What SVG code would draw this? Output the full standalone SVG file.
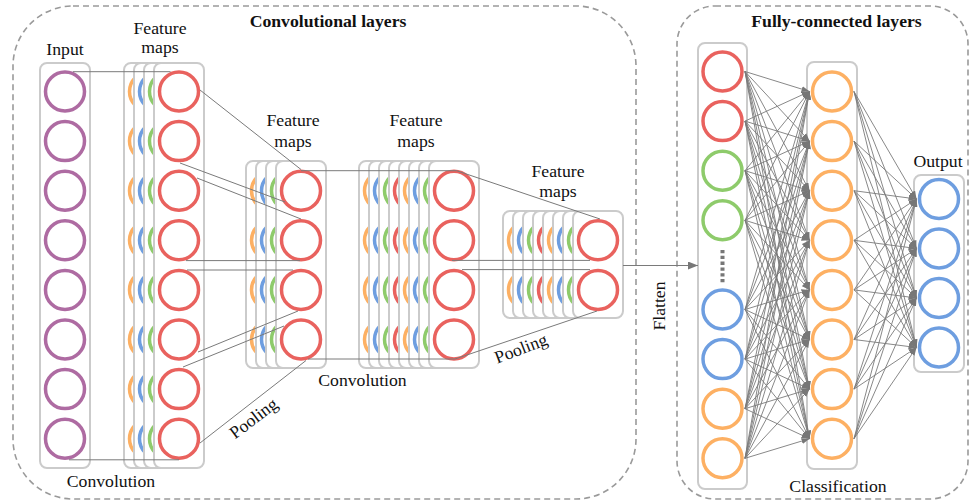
<svg xmlns="http://www.w3.org/2000/svg" xmlns:xlink="http://www.w3.org/1999/xlink" width="972" height="502" viewBox="0 0 972 502">
<style>
text{font-family:"Liberation Serif","Times New Roman",serif;font-size:17.7px;fill:#111;text-anchor:middle}
.t{font-weight:bold}
.box{fill:none;stroke:#9a9a9a;stroke-width:1.6;stroke-dasharray:6 4}
.card{fill:#fff;stroke:#cbcbcb;stroke-width:2}
.cols circle,.nd{fill:#fff;stroke-width:3.5}
.r{stroke:#E9625E}.o{stroke:#FDB063}.b{stroke:#6E9EE0}.g{stroke:#8ECB6B}.p{stroke:#AE6BA2}
.ln line{stroke:#7a7a7a;stroke-width:1;fill:none}
.fc line{stroke:#7a7a7a;stroke-width:0.9;marker-end:url(#ah)}
</style>
<defs>
<marker id="ah" viewBox="0 0 10 10" refX="10" refY="5" markerWidth="8" markerHeight="6" markerUnits="userSpaceOnUse" orient="auto" preserveAspectRatio="none"><path d="M0,0 L10,5 L0,10 z" fill="#777"/></marker>
<marker id="ah2" viewBox="0 0 10 10" refX="10" refY="5" markerWidth="10" markerHeight="8" markerUnits="userSpaceOnUse" orient="auto" preserveAspectRatio="none"><path d="M0,0 L10,5 L0,10 z" fill="#777"/></marker>
<g id="c8" class="cols"><circle cx="0" cy="91.5" r="19.5"/><circle cx="0" cy="141.1" r="19.5"/><circle cx="0" cy="190.7" r="19.5"/><circle cx="0" cy="240.3" r="19.5"/><circle cx="0" cy="289.9" r="19.5"/><circle cx="0" cy="339.5" r="19.5"/><circle cx="0" cy="389.1" r="19.5"/><circle cx="0" cy="438.7" r="19.5"/></g>
<g id="c4" class="cols"><circle cx="0" cy="190.7" r="19.5"/><circle cx="0" cy="240.3" r="19.5"/><circle cx="0" cy="289.9" r="19.5"/><circle cx="0" cy="339.5" r="19.5"/></g>
<g id="c2" class="cols"><circle cx="0" cy="240.3" r="19.5"/><circle cx="0" cy="289.9" r="19.5"/></g>
</defs>
<rect width="972" height="502" fill="#fff"/>
<g id="frames">
<rect class="box" x="13" y="6" width="623" height="493" rx="60"/>
<rect class="box" x="677" y="6" width="291" height="493" rx="38"/>
<text class="t" x="328" y="26.7">Convolutional layers</text>
<text class="t" x="836.5" y="26.7">Fully-connected layers</text>
</g>
<g id="input">
<rect class="card" x="40" y="63" width="50" height="405" rx="7"/>
<use xlink:href="#c8" x="65" class="p"/>
<text x="65" y="54.5">Input</text>
</g>
<g id="fmaps1">
<rect class="card" x="124" y="63" width="50" height="405" rx="7"/><use xlink:href="#c8" x="149" class="o"/>
<rect class="card" x="134" y="63" width="50" height="405" rx="7"/><use xlink:href="#c8" x="159" class="b"/>
<rect class="card" x="144" y="63" width="50" height="405" rx="7"/><use xlink:href="#c8" x="169" class="g"/>
<rect class="card" x="154" y="63" width="50" height="405" rx="7"/><use xlink:href="#c8" x="179" class="r"/>
<text x="160" y="33.5">Feature</text><text x="160" y="53">maps</text>
</g>
<g id="fmaps2">
<rect class="card" x="246" y="161" width="50" height="207" rx="7"/><use xlink:href="#c4" x="271" class="o"/>
<rect class="card" x="256" y="161" width="50" height="207" rx="7"/><use xlink:href="#c4" x="281" class="b"/>
<rect class="card" x="266" y="161" width="50" height="207" rx="7"/><use xlink:href="#c4" x="291" class="g"/>
<rect class="card" x="276" y="161" width="50" height="207" rx="7"/><use xlink:href="#c4" x="301" class="r"/>
<text x="293" y="126">Feature</text><text x="293" y="146.5">maps</text>
</g>
<g id="fmaps3">
<rect class="card" x="359" y="161" width="50" height="207" rx="7"/><use xlink:href="#c4" x="384" class="o"/>
<rect class="card" x="369" y="161" width="50" height="207" rx="7"/><use xlink:href="#c4" x="394" class="b"/>
<rect class="card" x="379" y="161" width="50" height="207" rx="7"/><use xlink:href="#c4" x="404" class="g"/>
<rect class="card" x="389" y="161" width="50" height="207" rx="7"/><use xlink:href="#c4" x="414" class="r"/>
<rect class="card" x="399" y="161" width="50" height="207" rx="7"/><use xlink:href="#c4" x="424" class="o"/>
<rect class="card" x="409" y="161" width="50" height="207" rx="7"/><use xlink:href="#c4" x="434" class="b"/>
<rect class="card" x="419" y="161" width="50" height="207" rx="7"/><use xlink:href="#c4" x="444" class="g"/>
<rect class="card" x="429" y="161" width="50" height="207" rx="7"/><use xlink:href="#c4" x="454" class="r"/>
<text x="416" y="126">Feature</text><text x="416" y="146.5">maps</text>
</g>
<g id="fmaps4">
<rect class="card" x="503" y="211" width="50" height="107" rx="7"/><use xlink:href="#c2" x="528" class="o"/>
<rect class="card" x="513" y="211" width="50" height="107" rx="7"/><use xlink:href="#c2" x="538" class="b"/>
<rect class="card" x="523" y="211" width="50" height="107" rx="7"/><use xlink:href="#c2" x="548" class="g"/>
<rect class="card" x="533" y="211" width="50" height="107" rx="7"/><use xlink:href="#c2" x="558" class="r"/>
<rect class="card" x="543" y="211" width="50" height="107" rx="7"/><use xlink:href="#c2" x="568" class="o"/>
<rect class="card" x="553" y="211" width="50" height="107" rx="7"/><use xlink:href="#c2" x="578" class="b"/>
<rect class="card" x="563" y="211" width="50" height="107" rx="7"/><use xlink:href="#c2" x="588" class="g"/>
<rect class="card" x="573" y="211" width="50" height="107" rx="7"/><use xlink:href="#c2" x="598" class="r"/>
<text x="558" y="176.5">Feature</text><text x="558" y="196.5">maps</text>
</g>
<g id="flatten">
<rect class="card" x="698" y="43" width="49" height="446" rx="7"/>
<circle class="nd r" cx="722.5" cy="71.5" r="19.5"/><circle class="nd r" cx="722.5" cy="121.1" r="19.5"/>
<circle class="nd g" cx="722.5" cy="170.7" r="19.5"/><circle class="nd g" cx="722.5" cy="220.3" r="19.5"/>
<line x1="722.5" y1="250" x2="722.5" y2="284" stroke="#777" stroke-width="4" stroke-dasharray="3.3 2.5"/>
<circle class="nd b" cx="722.5" cy="309.5" r="19.5"/><circle class="nd b" cx="722.5" cy="359.1" r="19.5"/>
<circle class="nd o" cx="722.5" cy="408.7" r="19.5"/><circle class="nd o" cx="722.5" cy="458.3" r="19.5"/>
</g>
<g id="hidden">
<rect class="card" x="807" y="62" width="50" height="407" rx="7"/>
<use xlink:href="#c8" x="832" class="o"/>
<text x="838" y="491.5">Classification</text>
</g>
<g id="output">
<rect class="card" x="914" y="175" width="50" height="197" rx="7"/>
<circle class="nd b" cx="939" cy="199" r="19.5"/><circle class="nd b" cx="939" cy="248.5" r="19.5"/>
<circle class="nd b" cx="939" cy="298" r="19.5"/><circle class="nd b" cx="939" cy="347.5" r="19.5"/>
<text x="938" y="166.5">Output</text>
</g>
<g id="connectors">
<g class="ln">
<line x1="73" y1="71.7" x2="170.5" y2="71.7"/>
<line x1="69" y1="459.8" x2="179" y2="459.8"/>
<line x1="200" y1="90" x2="301" y2="169.5"/>
<line x1="180" y1="163" x2="285" y2="202"/>
<line x1="197" y1="178" x2="301" y2="219"/>
<line x1="186" y1="260.6" x2="300" y2="260.6"/>
<line x1="187" y1="270" x2="293" y2="270"/>
<line x1="198" y1="352" x2="298" y2="311"/>
<line x1="183" y1="367" x2="284" y2="326"/>
<line x1="200" y1="443" x2="306" y2="360.5"/>
<line x1="301" y1="170.7" x2="456.5" y2="170.7"/>
<line x1="308" y1="359" x2="455" y2="359"/>
<line x1="456.5" y1="170.7" x2="600" y2="219"/>
<line x1="452" y1="260.4" x2="590" y2="260.4"/>
<line x1="462" y1="269.6" x2="590" y2="269.6"/>
<line x1="455" y1="359" x2="597" y2="311"/>
<line x1="623" y1="265.5" x2="698" y2="265.5" style="marker-end:url(#ah2);stroke-width:1.2"/>
</g>
<g class="fc">
<line x1="745" y1="71.5" x2="809.5" y2="91.5"/><line x1="745" y1="71.5" x2="809.5" y2="141.1"/><line x1="745" y1="71.5" x2="809.5" y2="190.7"/><line x1="745" y1="71.5" x2="809.5" y2="240.3"/><line x1="745" y1="71.5" x2="809.5" y2="289.9"/><line x1="745" y1="71.5" x2="809.5" y2="339.5"/><line x1="745" y1="71.5" x2="809.5" y2="389.1"/><line x1="745" y1="71.5" x2="809.5" y2="438.7"/>
<line x1="745" y1="121.1" x2="809.5" y2="91.5"/><line x1="745" y1="121.1" x2="809.5" y2="141.1"/><line x1="745" y1="121.1" x2="809.5" y2="190.7"/><line x1="745" y1="121.1" x2="809.5" y2="240.3"/><line x1="745" y1="121.1" x2="809.5" y2="289.9"/><line x1="745" y1="121.1" x2="809.5" y2="339.5"/><line x1="745" y1="121.1" x2="809.5" y2="389.1"/><line x1="745" y1="121.1" x2="809.5" y2="438.7"/>
<line x1="745" y1="170.7" x2="809.5" y2="91.5"/><line x1="745" y1="170.7" x2="809.5" y2="141.1"/><line x1="745" y1="170.7" x2="809.5" y2="190.7"/><line x1="745" y1="170.7" x2="809.5" y2="240.3"/><line x1="745" y1="170.7" x2="809.5" y2="289.9"/><line x1="745" y1="170.7" x2="809.5" y2="339.5"/><line x1="745" y1="170.7" x2="809.5" y2="389.1"/><line x1="745" y1="170.7" x2="809.5" y2="438.7"/>
<line x1="745" y1="220.3" x2="809.5" y2="91.5"/><line x1="745" y1="220.3" x2="809.5" y2="141.1"/><line x1="745" y1="220.3" x2="809.5" y2="190.7"/><line x1="745" y1="220.3" x2="809.5" y2="240.3"/><line x1="745" y1="220.3" x2="809.5" y2="289.9"/><line x1="745" y1="220.3" x2="809.5" y2="339.5"/><line x1="745" y1="220.3" x2="809.5" y2="389.1"/><line x1="745" y1="220.3" x2="809.5" y2="438.7"/>
<line x1="745" y1="309.5" x2="809.5" y2="91.5"/><line x1="745" y1="309.5" x2="809.5" y2="141.1"/><line x1="745" y1="309.5" x2="809.5" y2="190.7"/><line x1="745" y1="309.5" x2="809.5" y2="240.3"/><line x1="745" y1="309.5" x2="809.5" y2="289.9"/><line x1="745" y1="309.5" x2="809.5" y2="339.5"/><line x1="745" y1="309.5" x2="809.5" y2="389.1"/><line x1="745" y1="309.5" x2="809.5" y2="438.7"/>
<line x1="745" y1="359.1" x2="809.5" y2="91.5"/><line x1="745" y1="359.1" x2="809.5" y2="141.1"/><line x1="745" y1="359.1" x2="809.5" y2="190.7"/><line x1="745" y1="359.1" x2="809.5" y2="240.3"/><line x1="745" y1="359.1" x2="809.5" y2="289.9"/><line x1="745" y1="359.1" x2="809.5" y2="339.5"/><line x1="745" y1="359.1" x2="809.5" y2="389.1"/><line x1="745" y1="359.1" x2="809.5" y2="438.7"/>
<line x1="745" y1="408.7" x2="809.5" y2="91.5"/><line x1="745" y1="408.7" x2="809.5" y2="141.1"/><line x1="745" y1="408.7" x2="809.5" y2="190.7"/><line x1="745" y1="408.7" x2="809.5" y2="240.3"/><line x1="745" y1="408.7" x2="809.5" y2="289.9"/><line x1="745" y1="408.7" x2="809.5" y2="339.5"/><line x1="745" y1="408.7" x2="809.5" y2="389.1"/><line x1="745" y1="408.7" x2="809.5" y2="438.7"/>
<line x1="745" y1="458.3" x2="809.5" y2="91.5"/><line x1="745" y1="458.3" x2="809.5" y2="141.1"/><line x1="745" y1="458.3" x2="809.5" y2="190.7"/><line x1="745" y1="458.3" x2="809.5" y2="240.3"/><line x1="745" y1="458.3" x2="809.5" y2="289.9"/><line x1="745" y1="458.3" x2="809.5" y2="339.5"/><line x1="745" y1="458.3" x2="809.5" y2="389.1"/><line x1="745" y1="458.3" x2="809.5" y2="438.7"/>
<line x1="854" y1="91.5" x2="916.5" y2="199"/><line x1="854" y1="91.5" x2="916.5" y2="248.5"/><line x1="854" y1="91.5" x2="916.5" y2="298"/><line x1="854" y1="91.5" x2="916.5" y2="347.5"/>
<line x1="854" y1="141.1" x2="916.5" y2="199"/><line x1="854" y1="141.1" x2="916.5" y2="248.5"/><line x1="854" y1="141.1" x2="916.5" y2="298"/><line x1="854" y1="141.1" x2="916.5" y2="347.5"/>
<line x1="854" y1="190.7" x2="916.5" y2="199"/><line x1="854" y1="190.7" x2="916.5" y2="248.5"/><line x1="854" y1="190.7" x2="916.5" y2="298"/><line x1="854" y1="190.7" x2="916.5" y2="347.5"/>
<line x1="854" y1="240.3" x2="916.5" y2="199"/><line x1="854" y1="240.3" x2="916.5" y2="248.5"/><line x1="854" y1="240.3" x2="916.5" y2="298"/><line x1="854" y1="240.3" x2="916.5" y2="347.5"/>
<line x1="854" y1="289.9" x2="916.5" y2="199"/><line x1="854" y1="289.9" x2="916.5" y2="248.5"/><line x1="854" y1="289.9" x2="916.5" y2="298"/><line x1="854" y1="289.9" x2="916.5" y2="347.5"/>
<line x1="854" y1="339.5" x2="916.5" y2="199"/><line x1="854" y1="339.5" x2="916.5" y2="248.5"/><line x1="854" y1="339.5" x2="916.5" y2="298"/><line x1="854" y1="339.5" x2="916.5" y2="347.5"/>
<line x1="854" y1="389.1" x2="916.5" y2="199"/><line x1="854" y1="389.1" x2="916.5" y2="248.5"/><line x1="854" y1="389.1" x2="916.5" y2="298"/><line x1="854" y1="389.1" x2="916.5" y2="347.5"/>
<line x1="854" y1="438.7" x2="916.5" y2="199"/><line x1="854" y1="438.7" x2="916.5" y2="248.5"/><line x1="854" y1="438.7" x2="916.5" y2="298"/><line x1="854" y1="438.7" x2="916.5" y2="347.5"/>
</g>
</g>
<g id="labels">
<text x="111" y="487.3">Convolution</text>
<text x="362.5" y="386">Convolution</text>
<text transform="translate(257,423) rotate(-37)">Pooling</text>
<text transform="translate(523,354) rotate(-21)">Pooling</text>
<text transform="translate(665,306) rotate(-90)">Flatten</text>
</g>
</svg>
